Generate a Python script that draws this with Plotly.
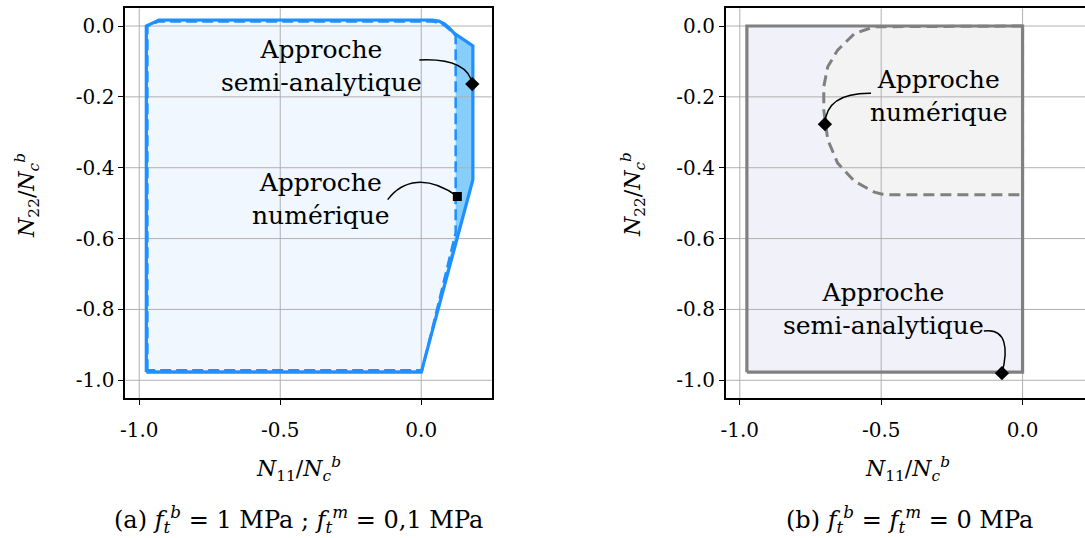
import plotly.graph_objects as go

# ---------------- data ----------------
# Panel (a): f_t^b = 1 MPa ; f_t^m = 0,1 MPa
a_semi_x = [-0.975, -0.975, -0.93, 0.04, 0.062, 0.082, 0.10, 0.116, 0.183, 0.183, 0.0, -0.975]
a_semi_y = [-0.977, 0.0, 0.017, 0.017, 0.014, 0.006, -0.006, -0.02, -0.056, -0.434, -0.977, -0.977]
a_num_x = [-0.971, -0.971, -0.93, 0.04, 0.062, 0.082, 0.10, 0.122, 0.122, 0.003, -0.971]
a_num_y = [-0.972, 0.0, 0.013, 0.013, 0.010, 0.002, -0.01, -0.027, -0.584, -0.972, -0.972]

# Panel (b): f_t^b = f_t^m = 0 MPa
b_semi_x = [-0.975, -0.975, 0.0, 0.0, -0.975]
b_semi_y = [-0.977, 0.0, 0.0, -0.977, -0.977]
b_num_x = [0.0, -0.524, -0.594, -0.654, -0.689, -0.703, -0.703, -0.689, -0.654, -0.595, -0.524, -0.489, 0.0, 0.0]
b_num_y = [0.0, -0.002, -0.021, -0.068, -0.115, -0.171, -0.237, -0.321, -0.387, -0.438, -0.469, -0.476, -0.476, 0.0]

# annotation markers (x, y)
a_pt_semi = [0.181, -0.164]
a_pt_num = [0.128, -0.481]
b_pt_num = [-0.699, -0.277]
b_pt_semi = [-0.073, -0.980]

# label centres (x, y)
a_lbl_semi = [-0.352, -0.112]
a_lbl_num = [-0.357, -0.488]
b_lbl_num = [-0.294, -0.197]
b_lbl_semi = [-0.492, -0.800]

# curved leader lines: start, control1, control2, end
a_lead_semi = [(-0.007, -0.096), (0.108, -0.092), (0.170, -0.115), (0.181, -0.164)]
a_lead_num = [(-0.119, -0.490), (-0.066, -0.434), (0.022, -0.420), (0.128, -0.481)]
b_lead_num = [(-0.536, -0.190), (-0.642, -0.189), (-0.696, -0.218), (-0.699, -0.277)]
b_lead_semi = [(-0.137, -0.861), (-0.057, -0.851), (-0.050, -0.913), (-0.073, -0.980)]

# ticks
x_ticks = [-1.0, -0.5, 0.0]
x_ticktext = ["-1.0", "-0.5", "0.0"]
y_ticks = [0.0, -0.2, -0.4, -0.6, -0.8, -1.0]
y_ticktext = ["0.0", "-0.2", "-0.4", "-0.6", "-0.8", "-1.0"]

a_xrange = [-1.05, 0.25]
b_xrange = [-1.05, 0.2208]
yrange = [-1.05, 0.05]

# ---------------- styles ----------------
FONT = "DejaVu Serif"
BLUE = "rgb(30,144,255)"
SKY = "rgb(135,206,250)"
ALICE = "rgb(240,247,255)"
GRAY = "rgb(128,128,128)"
LAV = "rgb(241,241,250)"
LGRAY = "rgb(243,243,243)"
GRID = "rgb(176,176,176)"

fig = go.Figure()


def fill(x, y, color, xa, ya):
    fig.add_trace(go.Scatter(x=x, y=y, mode="lines", fill="toself", fillcolor=color,
                             line=dict(width=0, color=color), xaxis=xa, yaxis=ya,
                             hoverinfo="skip", showlegend=False))


def grid(xr, xa, ya):
    gx, gy = [], []
    for v in x_ticks:
        gx += [v, v, None]
        gy += [yrange[0], yrange[1], None]
    for v in y_ticks:
        gx += [xr[0], 0.3, None]
        gy += [v, v, None]
    fig.add_trace(go.Scatter(x=gx, y=gy, mode="lines", line=dict(color=GRID, width=1),
                             xaxis=xa, yaxis=ya, hoverinfo="skip", showlegend=False))


def outline(x, y, color, width, dash, xa, ya):
    fig.add_trace(go.Scatter(x=x, y=y, mode="lines", line=dict(color=color, width=width, dash=dash),
                             xaxis=xa, yaxis=ya, hoverinfo="skip", showlegend=False))


def marker(pt, symbol, size, xa, ya):
    fig.add_trace(go.Scatter(x=[pt[0]], y=[pt[1]], mode="markers",
                             marker=dict(symbol=symbol, size=size, color="black"),
                             xaxis=xa, yaxis=ya, hoverinfo="skip", showlegend=False))


# panel (a)
fill(a_semi_x, a_semi_y, SKY, "x", "y")
fill(a_num_x, a_num_y, ALICE, "x", "y")
grid(a_xrange, "x", "y")
outline(a_semi_x, a_semi_y, BLUE, 3.2, "solid", "x", "y")
outline(a_num_x, a_num_y, BLUE, 2.5, "11px,5px", "x", "y")

# panel (b)
fill(b_semi_x, b_semi_y, LAV, "x2", "y2")
fill(b_num_x, b_num_y, LGRAY, "x2", "y2")
grid(b_xrange, "x2", "y2")
outline(b_semi_x, b_semi_y, GRAY, 3.2, "solid", "x2", "y2")
outline(b_num_x, b_num_y, GRAY, 3, "11px,6px", "x2", "y2")

# leader lines
shapes = []
for lead, xr, yr in [(a_lead_semi, "x", "y"), (a_lead_num, "x", "y"),
                     (b_lead_num, "x2", "y2"), (b_lead_semi, "x2", "y2")]:
    p0, c1, c2, p1 = lead
    path = f"M {p0[0]},{p0[1]} C {c1[0]},{c1[1]} {c2[0]},{c2[1]} {p1[0]},{p1[1]}"
    shapes.append(dict(type="path", path=path, xref=xr, yref=yr,
                       line=dict(color="black", width=1.5), layer="above"))

marker(a_pt_semi, "diamond", 11, "x", "y")
marker(a_pt_num, "square", 9, "x", "y")
marker(b_pt_num, "diamond", 11, "x2", "y2")
marker(b_pt_semi, "diamond", 11, "x2", "y2")

LBL = 25
annotations = []
for pos, txt, xr, yr in [(a_lbl_semi, "Approche<br>semi-analytique", "x", "y"),
                         (a_lbl_num, "Approche<br>numérique", "x", "y"),
                         (b_lbl_num, "Approche<br>numérique", "x2", "y2"),
                         (b_lbl_semi, "Approche<br>semi-analytique", "x2", "y2")]:
    annotations.append(dict(x=pos[0], y=pos[1], xref=xr, yref=yr, text=txt, showarrow=False,
                            font=dict(family=FONT, size=LBL, color="black"),
                            xanchor="center", yanchor="middle", align="center"))

W, H = 1085, 538
xlab = "<i>N</i><sub>11</sub>/<i>N</i><sub><i>c</i></sub><sup><i>b</i></sup>"
ylab = "<i>N</i><sub>22</sub>/<i>N</i><sub><i>c</i></sub><sup><i>b</i></sup>"
for px, py, txt, ang in [(295, 469, xlab, 0), (907, 469, xlab, 0),
                          (22, 195, ylab, -90), (631, 195, ylab, -90)]:
    annotations.append(dict(x=px / W, y=1 - py / H, xref="paper", yref="paper", text=txt,
                            showarrow=False, textangle=ang,
                            font=dict(family=FONT, size=22, color="black"),
                            xanchor="center", yanchor="middle"))

cap_a = ("(a) <i>f</i><sub><i>t</i></sub><sup><i>b</i></sup> = 1 MPa ; "
         "<i>f</i><sub><i>t</i></sub><sup><i>m</i></sup> = 0,1 MPa")
cap_b = ("(b) <i>f</i><sub><i>t</i></sub><sup><i>b</i></sup> = "
         "<i>f</i><sub><i>t</i></sub><sup><i>m</i></sup> = 0 MPa")
for px, txt in [(295, cap_a), (909, cap_b)]:
    annotations.append(dict(x=px / W, y=1 - 519 / H, xref="paper", yref="paper", text=txt,
                            showarrow=False, font=dict(family=FONT, size=24, color="black"),
                            xanchor="center", yanchor="middle"))

ydom = [1 - 398 / H, 1 - 8.3 / H]
axis_common = dict(showgrid=False, zeroline=False, showline=True, linecolor="black", linewidth=1.5,
                   ticks="outside", ticklen=5, tickwidth=1.2, tickcolor="black",
                   tickfont=dict(family=FONT, size=20, color="black"))

fig.update_layout(
    width=W, height=H, margin=dict(l=0, r=0, t=0, b=0),
    paper_bgcolor="white", plot_bgcolor="white", showlegend=False,
    shapes=shapes, annotations=annotations,
    xaxis=dict(domain=[120.7 / W, 489 / W], range=a_xrange, tickvals=x_ticks, ticktext=x_ticktext,
               mirror=True, anchor="y", ticklabelstandoff=8, **axis_common),
    yaxis=dict(domain=ydom, range=yrange, tickvals=y_ticks, ticktext=y_ticktext,
               mirror=True, anchor="x", **axis_common),
    xaxis2=dict(domain=[724 / W, 1.0], range=b_xrange, tickvals=x_ticks, ticktext=x_ticktext,
                mirror=True, anchor="y2", ticklabelstandoff=8, **axis_common),
    yaxis2=dict(domain=ydom, range=yrange, tickvals=y_ticks, ticktext=y_ticktext,
                mirror=False, anchor="x2", **axis_common),
)

fig.write_html("out.html", config={"displayModeBar": False},
               post_script="document.body.style.margin='0';document.body.style.overflow='hidden';")
